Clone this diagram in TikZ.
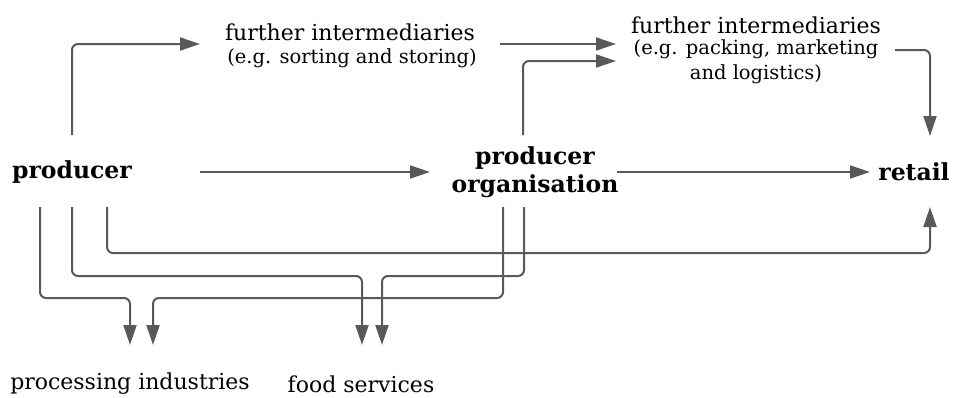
\documentclass[tikz,border=0pt]{standalone}
\usepackage{fontspec}
\setmainfont{DejaVu Serif}
\usetikzlibrary{arrows.meta}
\definecolor{lc}{HTML}{595959}
\tikzset{
  arr/.style={draw=lc, line width=2pt, rounded corners=6pt, -{Triangle[length=20pt,width=13pt]}},
  bigtxt/.style={font=\fontsize{23.5}{28}\selectfont\bfseries, align=center, inner sep=0pt},
  maintxt/.style={font=\fontsize{22}{26}\selectfont, align=center, inner sep=0pt},
  subtxt/.style={font=\fontsize{19.5}{25}\selectfont, align=center, inner sep=0pt}
}
\begin{document}
\begin{tikzpicture}[x=1pt,y=-1pt]
\useasboundingbox (0,0) rectangle (967,397);
% nodes
\node[bigtxt] (prod) at (72,172) {producer};
\node[bigtxt] (org) at (535,172) {producer\\organisation};
\node[bigtxt] (retail) at (914,172) {retail};
\node[maintxt] (fi1) at (350,32) {further intermediaries};
\node[subtxt] (fi1s) at (352,58) {(e.g. sorting and storing)};
\node[maintxt] (fi2) at (756,25) {further intermediaries};
\node[subtxt] (fi2s) at (756,62) {(e.g. packing, marketing\\and logistics)};
\node[maintxt] (proc) at (130,384) {processing industries};
\node[maintxt] (food) at (361,384) {food services};
% coordinates
\coordinate (pUp) at (72,135);
\coordinate (fi1in) at (200,44);
\coordinate (fi1out) at (500,44);
\coordinate (fi2inA) at (616,44);
\coordinate (oUp) at (523,135);
\coordinate (fi2inB) at (616,61);
\coordinate (fi2out) at (895,50);
\coordinate (rTop) at (930,136);
\coordinate (pR) at (200,172);
\coordinate (oL) at (430,172);
\coordinate (oR) at (617,172);
\coordinate (rL) at (870,172);
\coordinate (pD1) at (40,207);
\coordinate (pD2) at (72,207);
\coordinate (pD3) at (107,207);
\coordinate (oD1) at (503,207);
\coordinate (oD2) at (524,207);
\coordinate (rBot) at (930,207);
\coordinate (procA) at (130,345);
\coordinate (procB) at (153,345);
\coordinate (foodA) at (362,345);
\coordinate (foodB) at (382,345);
% connectors
\draw[arr] (pUp) |- (fi1in);
\draw[arr] (fi1out) -- (fi2inA);
\draw[arr] (oUp) |- (fi2inB);
\draw[arr] (fi2out) -| (rTop);
\draw[arr] (pR) -- (oL);
\draw[arr] (oR) -- (rL);
\draw[arr] (pD1) -- (40,298) -- (130,298) -- (procA);
\draw[arr] (pD2) -- (72,276) -- (362,276) -- (foodA);
\draw[arr] (pD3) -- (107,253) -- (930,253) -- (rBot);
\draw[arr] (oD1) -- (503,298) -- (153,298) -- (procB);
\draw[arr] (oD2) -- (524,276) -- (382,276) -- (foodB);
\end{tikzpicture}
\end{document}
